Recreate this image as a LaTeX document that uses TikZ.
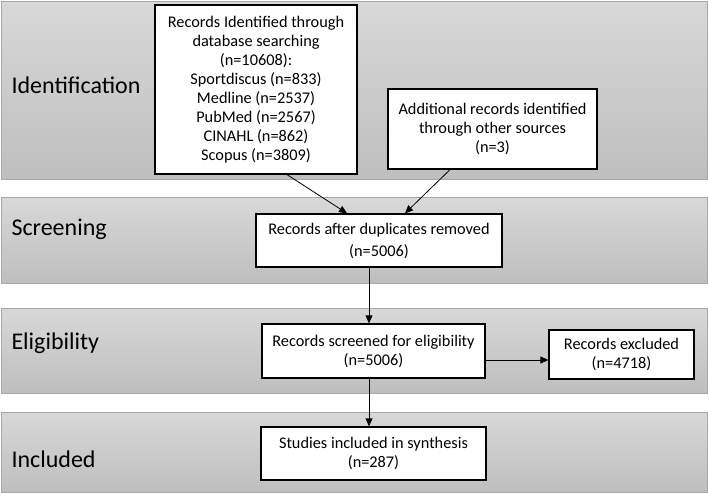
\documentclass[tikz,border=0pt]{standalone}
\usepackage{fontspec}
\setmainfont{Carlito}
\usepackage{tikz}
\usetikzlibrary{positioning,arrows.meta,calc}
\definecolor{bandtop}{HTML}{D8D8D8}
\definecolor{bandbot}{HTML}{BEBEBE}
\definecolor{bandedge}{HTML}{A8A8A8}

\begin{document}
\begin{tikzpicture}[
    x=1pt, y=-1pt,
    band/.style={draw=bandedge, line width=1pt, top color=bandtop,
                 bottom color=bandbot},
    stage/.style={anchor=west, font=\fontsize{24}{28}\selectfont},
    recbox/.style={draw, line width=1.3pt, fill=white, align=center,
                   font=\fontsize{16.3}{19}\selectfont, inner sep=2pt},
    arr/.style={line width=0.8pt, -{Triangle[length=8pt,width=7pt]}},
]
\useasboundingbox (0,0) rectangle (709,494);

% phase bands
\path[band] (1.5,1.5) rectangle (707.5,180);
\path[band] (1.5,198) rectangle (707.5,283);
\path[band] (1.5,308) rectangle (707.5,393);
\path[band] (1.5,412) rectangle (707.5,492.5);

\node[stage] (idlab)  at (8,85)  {Identification};
\node[stage] (scrlab) at (8,229) {Screening};
\node[stage] (eliglab) at (8,343) {Eligibility};
\node[stage] (inclab) at (8,459) {Included};

% record boxes
\node[recbox, minimum width=202pt, minimum height=169pt] (db) at (256,89.5)
    {Records Identified through\\database searching\\(n=10608):\\
     Sportdiscus (n=833)\\Medline (n=2537)\\PubMed (n=2567)\\
     CINAHL (n=862)\\Scopus (n=3809)};
\node[recbox, minimum width=209pt, minimum height=80pt] (other) at (492.5,129)
    {Additional records identified\\through other sources\\(n=3)};
\node[recbox, minimum width=246pt, minimum height=53pt] (dup) at (379,240.5)
    {Records after duplicates removed\\[3pt](n=5006)};
\node[recbox, minimum width=223pt, minimum height=54pt] (scr) at (373.5,351)
    {Records screened for eligibility\\(n=5006)};
\node[recbox, minimum width=145pt, minimum height=49pt] (exc) at (621.5,354.5)
    {Records excluded\\(n=4718)};
\node[recbox, minimum width=225pt, minimum height=53pt] (inc) at (373.5,453.5)
    {Studies included in synthesis\\(n=287)};

% connectors
\draw[arr] ([xshift=31pt]db.south) -- ([xshift=-32pt]dup.north);
\draw[arr] ([xshift=-42.5pt]other.south) -- ([xshift=26pt]dup.north);
\draw[arr] ([xshift=-10pt]dup.south) coordinate (a) -- (a |- scr.north);
\draw[arr] ([yshift=-9pt]scr.east) coordinate (b) -- (b -| exc.west);
\draw[arr] ([xshift=-4.5pt]scr.south) coordinate (c) -- (c |- inc.north);
\end{tikzpicture}
\end{document}
